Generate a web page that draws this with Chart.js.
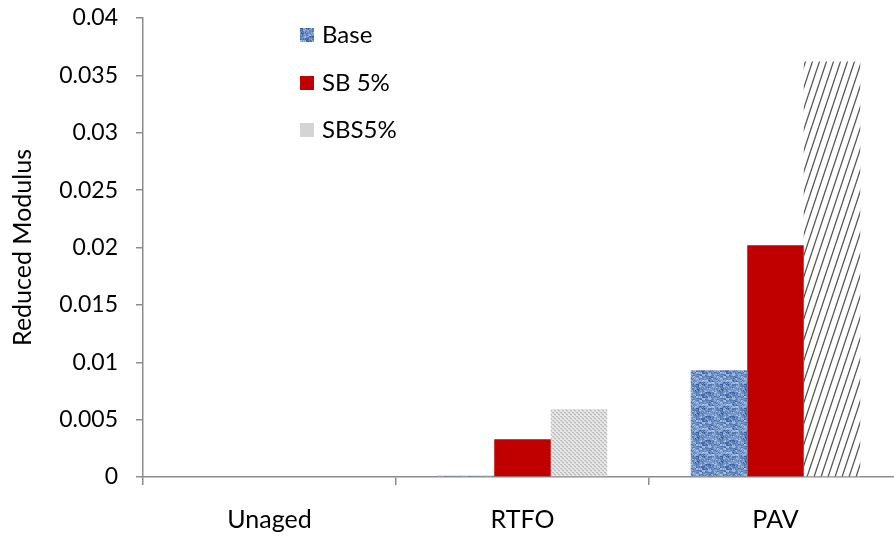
<!DOCTYPE html>
<html>
<head>
<meta charset="utf-8">
<script src="https://cdn.jsdelivr.net/npm/chart.js@4"></script>
<style>
  body { margin: 0; background: #fff; overflow: hidden; }
  #wrap { position: relative; width: 902px; height: 540px; }
  .legend { position: absolute; left: 300px; top: 19px; font: 24px Lato, sans-serif; color: #000; }
  .item { height: 47.5px; display: flex; align-items: flex-start; }
  .sw { width: 14px; height: 14px; margin: 9px 8px 0 0; }
</style>
</head>
<body>
<div id="wrap">
  <canvas id="c" width="902" height="540"></canvas>
  <div class="legend">
    <div class="item"><div class="sw" id="swBase"></div><span>Base</span></div>
    <div class="item"><div class="sw" style="background:#c00000"></div><span>SB 5%</span></div>
    <div class="item"><div class="sw" style="background:#d4d4d4"></div><span>SBS5%</span></div>
  </div>
</div>
<script>
var categories = ['Unaged', 'RTFO', 'PAV'];
var seriesNames = ['Base', 'SB 5%', 'SBS5%'];
var base = [0, 0.0001, 0.0093];
var sb5 = [0, 0.0033, 0.0202];
var sbs5 = [0, 0.0059, 0.0362];
var yTicks = ['0', '0.005', '0.01', '0.015', '0.02', '0.025', '0.03', '0.035', '0.04'];

function hash(x, y) {
    var s = Math.sin(x * 12.9898 + y * 78.233) * 43758.5453;
    return s - Math.floor(s);
}

// blue woven texture for Base
function bluePattern() {
    var cv = document.createElement('canvas');
    cv.width = 24; cv.height = 24;
    var g = cv.getContext('2d');
    for (var y = 0; y < 24; y++) {
        for (var x = 0; x < 24; x++) {
            var t = hash(Math.floor(x / 2) + (y % 2), Math.floor(y / 2) * 3 + x);
            t = 0.5 * t + 0.5 * hash(Math.floor(x / 3), Math.floor(y / 2));
            var r = Math.round(45 + t * 140);
            var gg = Math.round(85 + t * 125);
            var b = Math.round(150 + t * 95);
            g.fillStyle = 'rgb(' + r + ',' + gg + ',' + b + ')';
            g.fillRect(x, y, 1, 1);
        }
    }
    return cv;
}

// fine light grey texture
function greyPattern() {
    var cv = document.createElement('canvas');
    cv.width = 4; cv.height = 4;
    var g = cv.getContext('2d');
    g.fillStyle = '#e6e6e6';
    g.fillRect(0, 0, 4, 4);
    g.fillStyle = '#bfbfbf';
    g.fillRect(0, 0, 2, 1);
    g.fillRect(2, 2, 2, 1);
    g.fillStyle = '#d0d0d0';
    g.fillRect(1, 1, 2, 1);
    g.fillRect(3, 3, 1, 1);
    return cv;
}

// steep diagonal hatch
function hatchPattern() {
    var cv = document.createElement('canvas');
    cv.width = 7; cv.height = 21;
    var g = cv.getContext('2d');
    g.fillStyle = '#ffffff';
    g.fillRect(0, 0, 7, 21);
    g.strokeStyle = '#555555';
    g.lineWidth = 1.3;
    for (var k = -1; k <= 1; k++) {
        g.beginPath();
        g.moveTo(k * 7, 21);
        g.lineTo(k * 7 + 7, 0);
        g.stroke();
    }
    return cv;
}

var ctx = document.getElementById('c').getContext('2d');
var bp = bluePattern();
document.getElementById('swBase').style.background = 'url(' + bp.toDataURL() + ')';
var bluePat = ctx.createPattern(bp, 'repeat');
var greyPat = ctx.createPattern(greyPattern(), 'repeat');
var hatchPat = ctx.createPattern(hatchPattern(), 'repeat');

var font = { family: 'Lato, sans-serif', size: 25 };
var tickFont = { family: 'Lato, sans-serif', size: 23 };

var myChart = new Chart(ctx, {
    type: 'bar',
    data: {
        labels: categories,
        datasets: [{
            label: seriesNames[0],
            backgroundColor: bluePat,
            data: base
        }, {
            label: seriesNames[1],
            backgroundColor: '#c00000',
            data: sb5
        }, {
            label: seriesNames[2],
            backgroundColor: [greyPat, greyPat, hatchPat],
            data: sbs5
        }]
    },
    options: {
        responsive: false,
        animation: false,
        layout: { padding: { top: 18, right: 0, left: 0, bottom: 0 } },
        plugins: { legend: { display: false }, tooltip: { enabled: false } },
        datasets: { bar: { categoryPercentage: 0.67, barPercentage: 1.0 } },
        scales: {
            x: {
                border: { color: '#8c8c8c', width: 1.5 },
                grid: { offset: true, drawOnChartArea: false, tickLength: 8, color: '#8c8c8c', lineWidth: 1.5 },
                ticks: { color: '#000', font: font, padding: 20 },
                afterFit: function (s) { s.height = 63; }
            },
            y: {
                min: 0, max: 0.04,
                border: { color: '#8c8c8c', width: 1.5 },
                grid: { drawOnChartArea: false, tickLength: 7, color: '#8c8c8c', lineWidth: 1.5 },
                ticks: {
                    stepSize: 0.005, color: '#000', font: tickFont, padding: 18,
                    callback: function (v, i) { return yTicks[i]; }
                },
                title: { display: true, text: 'Reduced Modulus', color: '#000', font: font, padding: { top: 8, bottom: 0 } },
                afterFit: function (s) {
                    s.width = 143;
                    s.paddingTop = 0;
                    s.paddingBottom = 0;
                }
            }
        }
    }
});
</script>
</body>
</html>
